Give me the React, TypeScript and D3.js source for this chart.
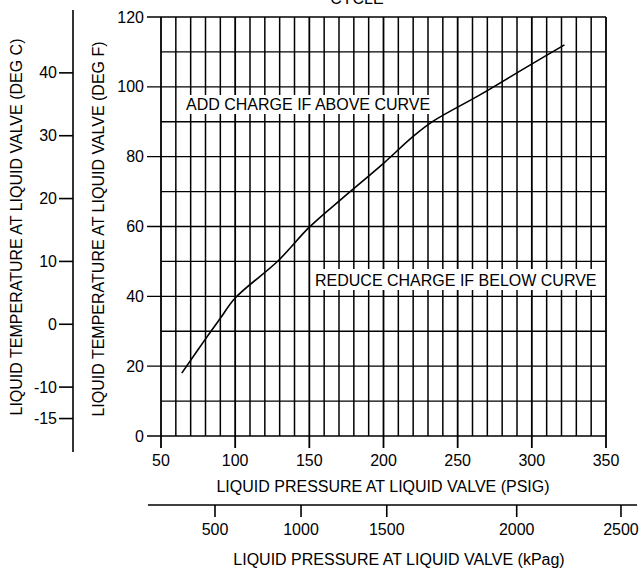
import React from "react";
import * as d3 from "d3";

// ---- data ----
const curvePsi = [64, 81, 90, 100, 129, 150, 172, 200, 220, 234, 265, 299, 322];
const curveDegF = [18, 28.4, 33.7, 39.5, 50.2, 59.8, 68, 78.1, 85.8, 90.3, 97.7, 106.3, 112];

const psiTicks = [50, 100, 150, 200, 250, 300, 350];
const psiGrid = d3.range(50, 351, 10);
const degFTicks = [0, 20, 40, 60, 80, 100, 120];
const degFGrid = d3.range(0, 121, 10);
const degCTicks = [40, 30, 20, 10, 0, -10, -15];
const kpaTickLabels = [500, 1000, 1500, 2000, 2500];
const kpaTickPsi = [86.4, 144.4, 202.2, 289.8, 360.1];

const titleTop = "CYCLE";
const xTitle = "LIQUID PRESSURE AT LIQUID VALVE (PSIG)";
const x2Title = "LIQUID PRESSURE AT LIQUID VALVE (kPag)";
const yTitleF = "LIQUID TEMPERATURE AT LIQUID VALVE (DEG F)";
const yTitleC = "LIQUID TEMPERATURE AT LIQUID VALVE (DEG C)";
const noteAbove = "ADD CHARGE IF ABOVE CURVE";
const noteBelow = "REDUCE CHARGE IF BELOW CURVE";

export default function App() {
  const W = 639, H = 570;
  const x = d3.scaleLinear().domain([50, 350]).range([161, 606]);
  const y = d3.scaleLinear().domain([0, 120]).range([436, 17]);
  const cToF = (c: number) => c * 1.8 + 32;
  const font = "'Liberation Sans', Arial, Helvetica, sans-serif";
  const fs = 16;

  const pts: [number, number][] = curvePsi.map((p, i) => [p, curveDegF[i]]);
  const line = d3
    .line<[number, number]>()
    .x((d) => x(d[0]))
    .y((d) => y(d[1]))
    .curve(d3.curveCatmullRom.alpha(0.5));

  const cAxisX = 73;
  const kpaY = 505;

  return (
    <svg
      width={W}
      height={H}
      style={{ position: "absolute", left: 0, top: 0, background: "#fff" }}
      fontFamily={font}
    >
      <rect x={0} y={0} width={W} height={H} fill="#fff" />
      {/* cut-off top title (only its lower edge is visible in the reference) */}
      <text x={357} y={4} fontSize={fs} textAnchor="middle" fill="#000">
        {titleTop}
      </text>

      {/* horizontal grid lines */}
      {degFGrid.map((v) => (
        <line
          key={"h" + v}
          x1={v % 20 === 0 ? x(50) - 14 : x(50)}
          x2={x(350)}
          y1={y(v)}
          y2={y(v)}
          stroke="#000"
          strokeWidth={1.4}
        />
      ))}
      {/* vertical grid lines */}
      {psiGrid.map((p) => (
        <line
          key={"v" + p}
          x1={x(p)}
          x2={x(p)}
          y1={y(120)}
          y2={p % 50 === 0 ? y(0) + 12 : y(0)}
          stroke="#000"
          strokeWidth={p % 50 === 0 ? 1.8 : 1.5}
        />
      ))}

      {/* annotation boxes */}
      <rect x={183} y={95} width={255} height={19} fill="#fff" />
      <text x={186} y={110} fontSize={fs} fill="#000">
        {noteAbove}
      </text>
      <rect x={312} y={269} width={291} height={21} fill="#fff" />
      <text x={315} y={286} fontSize={fs} fill="#000">
        {noteBelow}
      </text>

      {/* curve */}
      <path d={line(pts) || ""} fill="none" stroke="#000" strokeWidth={1.6} />

      {/* F axis labels */}
      {degFTicks.map((v) => (
        <text
          key={"fl" + v}
          x={144}
          y={y(v)}
          dy="0.35em"
          fontSize={fs}
          textAnchor="end"
          fill="#000"
        >
          {v}
        </text>
      ))}

      {/* X axis labels */}
      {psiTicks.map((p) => (
        <text key={"xl" + p} x={x(p)} y={466} fontSize={fs} textAnchor="middle" fill="#000">
          {p}
        </text>
      ))}
      <text x={383} y={492} fontSize={fs} textAnchor="middle" fill="#000">
        {xTitle}
      </text>

      {/* kPag axis */}
      <line x1={x(41.2)} x2={x(370.9)} y1={kpaY} y2={kpaY} stroke="#000" strokeWidth={1.4} />
      {kpaTickLabels.map((k, i) => (
        <g key={"k" + k}>
          <line
            x1={x(kpaTickPsi[i])}
            x2={x(kpaTickPsi[i])}
            y1={kpaY}
            y2={kpaY + 12}
            stroke="#000"
            strokeWidth={1.6}
          />
          <text x={x(kpaTickPsi[i])} y={535} fontSize={fs} textAnchor="middle" fill="#000">
            {k}
          </text>
        </g>
      ))}
      <text x={399} y={565} fontSize={fs} textAnchor="middle" fill="#000">
        {x2Title}
      </text>

      {/* C axis */}
      <line x1={cAxisX} x2={cAxisX} y1={10} y2={452} stroke="#000" strokeWidth={1.6} />
      {degCTicks.map((c) => (
        <g key={"c" + c}>
          <line
            x1={cAxisX - 14}
            x2={cAxisX}
            y1={y(cToF(c))}
            y2={y(cToF(c))}
            stroke="#000"
            strokeWidth={1.6}
          />
          <text
            x={cAxisX - 16}
            y={y(cToF(c))}
            dy="0.35em"
            fontSize={fs}
            textAnchor="end"
            fill="#000"
          >
            {c}
          </text>
        </g>
      ))}

      {/* Y titles */}
      <text
        transform="translate(22,227) rotate(-90)"
        fontSize={fs}
        textAnchor="middle"
        fill="#000"
      >
        {yTitleC}
      </text>
      <text
        transform="translate(104,229) rotate(-90)"
        fontSize={fs}
        textAnchor="middle"
        fill="#000"
      >
        {yTitleF}
      </text>
    </svg>
  );
}
